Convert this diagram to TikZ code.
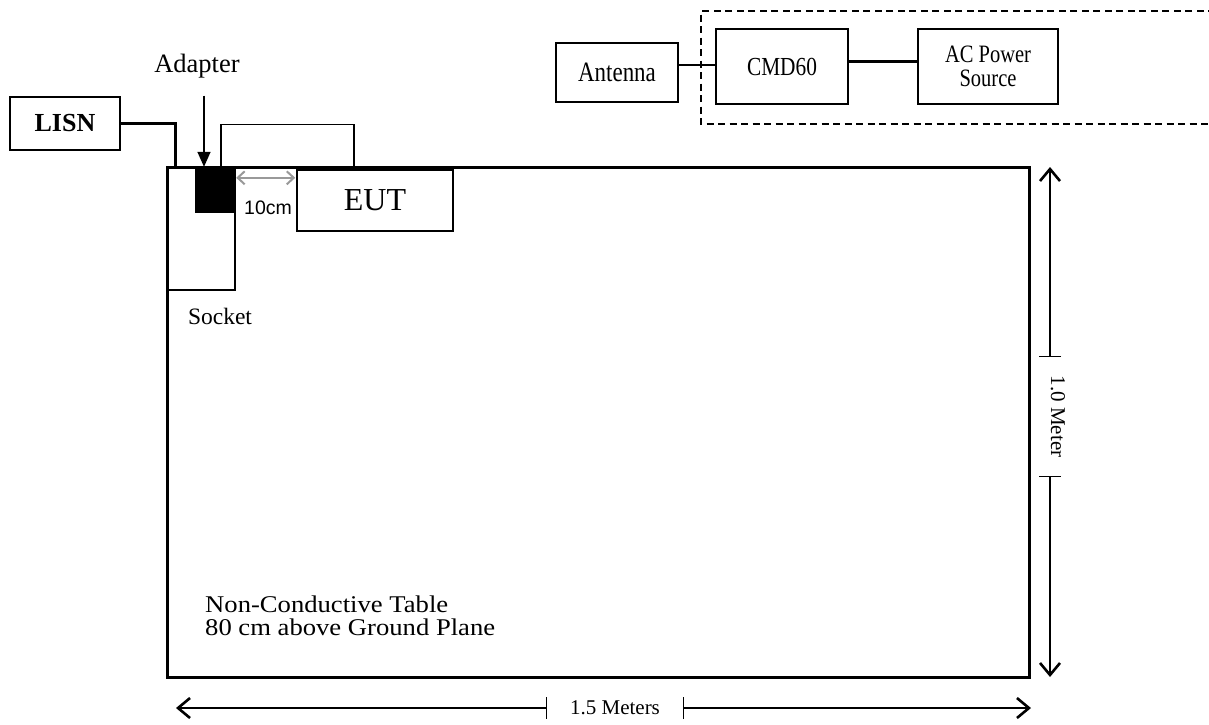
\documentclass[tikz,border=0pt]{standalone}
\usepackage{fontspec}
\setmainfont{Liberation Serif}
\setsansfont{Liberation Sans}
\newfontfamily\narrowfont[FakeStretch=0.82]{Liberation Serif}
\newfontfamily\widefont[FakeStretch=1.11]{Liberation Serif}
\usetikzlibrary{arrows.meta,positioning}
\newcommand{\fsz}[2]{\fontsize{#1}{#2}\selectfont}

\begin{document}
\begin{tikzpicture}[x=1pt, y=-1pt,
  box/.style={rectangle, draw, line width=1.5pt, inner sep=0pt, align=center},
  wire/.style={line width=1.3pt},
  power/.style={line width=3pt},
  dim/.style={line width=1.3pt},
  >={Straight Barb[length=12pt, width=20pt, line width=2.6pt]}
]
  \useasboundingbox (0,0) rectangle (1209,724);

  % table and what stands on it
  \node[box, line width=3pt, minimum width=862pt, minimum height=510pt] (tbl) at (598,422) {};
  \node[anchor=north west, inner sep=0pt, align=left, font=\widefont\fsz{24}{23}] (tbllab) at (205,596) {Non-Conductive Table\\80 cm above Ground Plane};
  \node[box, minimum width=67pt, minimum height=123pt] (sock) at (201.5,228.5) {};
  \node[font=\fsz{23.5}{26}] (socklab) at (220,316) {Socket};
  \node[rectangle, fill=black, minimum width=39pt, minimum height=46pt, inner sep=0pt] (ad) at (214.5,190) {};
  \node[font=\fsz{26.5}{28}] (adlab) at (197,66) {Adapter};
  \node[box, minimum width=156pt, minimum height=61pt, font=\fsz{32}{34}] (eut) at (375,200.5) {EUT};
  \node[font=\sffamily\fsz{19.5}{22}] (gaplab) at (268,208) {10cm};
  \node[box, minimum width=110pt, minimum height=53pt, font=\fsz{26}{30}\bfseries] (lisn) at (65,123.5) {LISN};

  % test equipment
  \node[box, minimum width=122pt, minimum height=59pt, font=\narrowfont\fsz{28}{30}] (ant) at (617,72.5) {Antenna};
  \node[box, minimum width=132pt, minimum height=75pt, font=\narrowfont\fsz{26}{28}] (cmd) at (782,66.5) {CMD60};
  \node[box, minimum width=140pt, minimum height=75pt, font=\narrowfont\fsz{25}{24}] (ac) at (988,66.5) {AC Power\\Source};
  \draw[dashed, line width=1.3pt, dash pattern=on 7pt off 4.5pt] (1215,11) -| (701,124) -- (1215,124);

  % connections
  \draw[power] (lisn.east) -| ([xshift=8pt]sock.north west);
  \draw[wire] ([xshift=6.5pt]ad.north) -- ++(0,-42) -| ([xshift=-21pt]eut.north);
  \draw[line width=1.5pt, shorten <=14pt, -{Triangle[length=15pt, width=13pt]}] ([xshift=-10.5pt]ad.north |- adlab.south) -- ([xshift=-10.5pt]ad.north);
  \draw[black!40, line width=2pt, shorten <=2pt, shorten >=1pt, {Straight Barb[length=7pt, width=13pt]}-{Straight Barb[length=7pt, width=13pt]}] ([yshift=-11pt]ad.north east) -- ([yshift=-11pt]ad.north east -| eut.west);
  \draw[wire] ([yshift=1.5pt]cmd.west) -- ([yshift=1.5pt]cmd.west -| ant.east);
  \draw[power] ([yshift=5.5pt]cmd.east) -- ([yshift=5.5pt]cmd.east -| ac.west);

  % dimensions
  \coordinate (hl) at (176,708);
  \coordinate (hr) at (1031,708);
  \node[font=\fsz{21}{24}, inner xsep=23pt] (wlab) at (615,708) {1.5 Meters};
  \draw[dim, {Bar[width=22pt]}->] (wlab.west) -- (hl);
  \draw[dim, {Bar[width=22pt]}->] (wlab.east) -- (hr);
  \coordinate (vt) at (1050,167);
  \coordinate (vb) at (1050,677);
  \node[font=\fsz{21}{24}, rotate=-90, inner xsep=18pt] (hlab) at (1058,416.5) {1.0 Meter};
  \draw[dim, {Bar[width=22pt]}->] (hlab.west -| vt) -- (vt);
  \draw[dim, {Bar[width=22pt]}->] (hlab.east -| vb) -- (vb);
\end{tikzpicture}
\end{document}
